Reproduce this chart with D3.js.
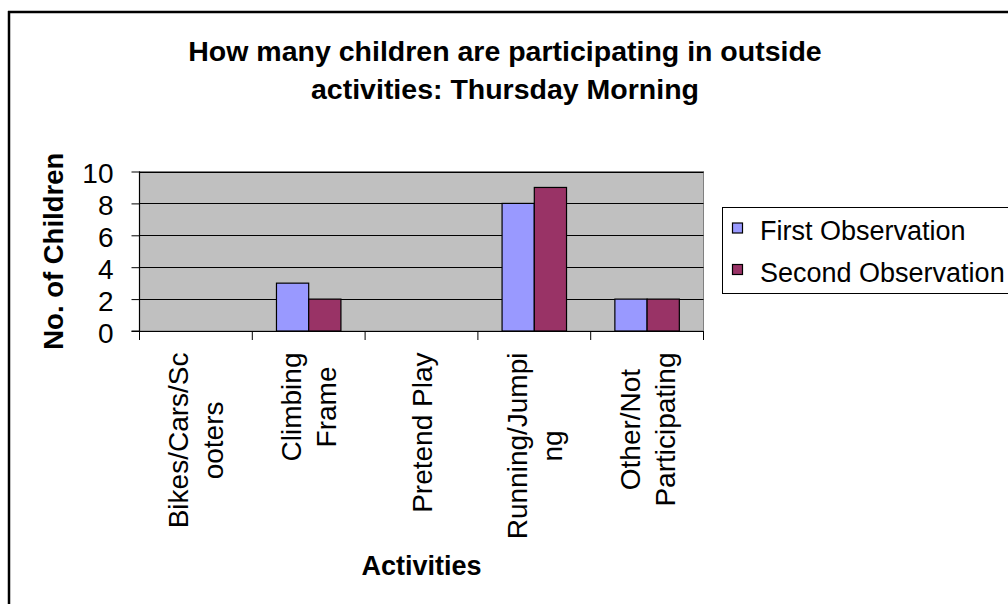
<!DOCTYPE html>
<html><head><meta charset="utf-8">
<script src="https://cdn.jsdelivr.net/npm/d3@7"></script>
<style>body{margin:0;background:#fff}svg{display:block;font-family:Arial,"Liberation Sans",sans-serif}</style>
</head><body>
<svg id="c" width="1008" height="604"></svg>
<script>
const categories = [["Bikes/Cars/Sc","ooters"],["Climbing","Frame"],["Pretend Play"],["Running/Jumpi","ng"],["Other/Not","Participating"]];
const seriesNames = ["First Observation","Second Observation"];
const firstObs = [0,3,0,8,2];
const secondObs = [0,2,0,9,2];
const yTicks = [0,2,4,6,8,10];
const colors = ["#9999ff","#993366"];

const svg = d3.select("#c");
const L=139.5, R=703.5, T=171.5, B=331;
const ids = categories.map((c,i)=>i);
const x = d3.scaleBand().domain(ids).range([L,R]).paddingInner(0).paddingOuter(0);
const y = d3.scaleLinear().domain([0,10]).range([B,T]);
const bw = x.bandwidth()/3.5;

// outer border
svg.append("line").attr("x1",9).attr("x2",9).attr("y1",11).attr("y2",604).attr("stroke","#000").attr("stroke-width",2.5);
svg.append("line").attr("x1",8).attr("x2",1008).attr("y1",12).attr("y2",12).attr("stroke","#000").attr("stroke-width",2.5);

// title
const title = svg.append("text").attr("text-anchor","middle").attr("font-weight","bold").attr("font-size",28.5);
title.append("tspan").attr("x",505).attr("y",60.5).text("How many children are participating in outside");
title.append("tspan").attr("x",505).attr("y",98.5).text("activities: Thursday Morning");

// plot area
svg.append("rect").attr("x",L).attr("y",T).attr("width",R-L).attr("height",B-T).attr("fill","#c0c0c0").attr("stroke","#808080").attr("stroke-width",1);
svg.append("g").selectAll("line").data(yTicks.filter(d=>d>0)).join("line")
  .attr("x1",L).attr("x2",R).attr("y1",d=>Math.round(y(d))+0.5).attr("y2",d=>Math.round(y(d))+0.5)
  .attr("stroke","#000").attr("stroke-width",1);

// bars
const data = [firstObs, secondObs];
data.forEach((vals,s)=>{
  svg.append("g").selectAll("rect").data(vals.map((v,i)=>({v,i}))).join("rect")
    .filter(d=>d.v>0)
    .attr("x",d=>x(d.i)+x.bandwidth()/2 - bw + s*bw)
    .attr("y",d=>y(d.v))
    .attr("width",bw).attr("height",d=>B-y(d.v))
    .attr("fill",colors[s]).attr("stroke","#000").attr("stroke-width",1.2);
});

// y axis
const ya = svg.append("g").attr("transform",`translate(${L},0)`)
  .call(d3.axisLeft(y).tickValues(yTicks).tickSize(8).tickPadding(18).tickFormat(d3.format("d")));
ya.select(".domain").attr("stroke","#000").attr("stroke-width",1.2).attr("d",`M-8,${B}H0V${T}`);
ya.selectAll(".tick line").attr("stroke","#000");
ya.selectAll(".tick text").attr("font-size",28).attr("font-family","Arial,'Liberation Sans',sans-serif").attr("fill","#000").attr("dy","0.4em");

// x axis
const xa = svg.append("g").attr("transform",`translate(0,${B})`);
xa.append("line").attr("x1",L).attr("x2",R).attr("y1",0.5).attr("y2",0.5).attr("stroke","#000").attr("stroke-width",1.2);
const bounds = ids.map(i=>x(i)).concat([R]);
xa.selectAll("line.t").data(bounds).join("line").attr("class","t")
  .attr("x1",d=>d).attr("x2",d=>d).attr("y1",0).attr("y2",9).attr("stroke","#000");

// category labels
categories.forEach((lines,i)=>{
  const cx = x(i)+x.bandwidth()/2;
  const g = svg.append("g");
  const ts = lines.map((ln,k)=>{
    const off = (k-(lines.length-1)/2)*35;
    return g.append("text").attr("font-size",28).attr("text-anchor","middle")
      .attr("transform",`translate(${cx+off+10},0) rotate(-90)`).text(ln);
  });
  const maxW = d3.max(ts, t=>t.node().getComputedTextLength());
  const cy = 352.5 + maxW/2;
  lines.forEach((ln,k)=>{
    const off = (k-(lines.length-1)/2)*35;
    ts[k].attr("transform",`translate(${cx+off+10},${cy}) rotate(-90)`);
  });
});

// axis titles
svg.append("text").attr("font-weight","bold").attr("font-size",27.5).attr("text-anchor","middle")
  .attr("transform",`translate(63,${(T+B)/2}) rotate(-90)`).text("No. of Children");
svg.append("text").attr("font-weight","bold").attr("font-size",27).attr("text-anchor","middle")
  .attr("x",(L+R)/2).attr("y",575).text("Activities");

// legend
svg.append("rect").attr("x",722.5).attr("y",207.5).attr("width",320).attr("height",86).attr("fill","#fff").attr("stroke","#000").attr("stroke-width",1);
seriesNames.forEach((n,s)=>{
  const yy = 240 + s*41.5;
  svg.append("rect").attr("x",732.5).attr("y",yy-17).attr("width",10).attr("height",10).attr("fill",colors[s]).attr("stroke","#000").attr("stroke-width",1.2);
  svg.append("text").attr("x",760).attr("y",yy).attr("font-size",27).text(n);
});
</script>
</body></html>
